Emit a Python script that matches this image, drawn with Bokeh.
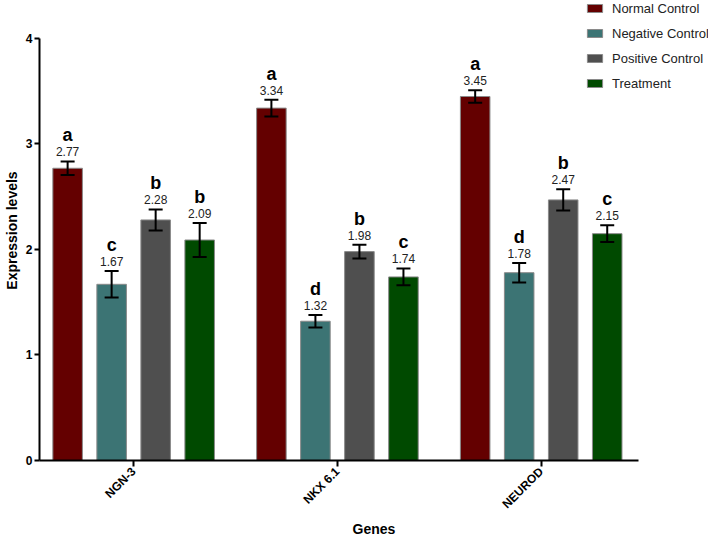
from bokeh.plotting import figure
from bokeh.models import (ColumnDataSource, Whisker, TeeHead, LabelSet,
                          Legend, LegendItem, FixedTicker, Range1d)
from bokeh.core.properties import value
from bokeh.embed import file_html
from bokeh.resources import INLINE
import math

genes = ["NGN-3", "NKX 6.1", "NEUROD"]
groups = ["Normal Control", "Negative Control", "Positive Control", "Treatment"]

normal_control = [2.77, 3.34, 3.45]
negative_control = [1.67, 1.32, 1.78]
positive_control = [2.28, 1.98, 2.47]
treatment = [2.09, 1.74, 2.15]

normal_err = [0.065, 0.08, 0.06]
negative_err = [0.125, 0.06, 0.093]
positive_err = [0.10, 0.065, 0.10]
treatment_err = [0.16, 0.08, 0.08]

normal_letters = ["a", "a", "a"]
negative_letters = ["c", "d", "d"]
positive_letters = ["b", "b", "b"]
treatment_letters = ["b", "c", "c"]

y_ticks = [0, 1, 2, 3, 4]

values = [normal_control, negative_control, positive_control, treatment]
errors = [normal_err, negative_err, positive_err, treatment_err]
letters = [normal_letters, negative_letters, positive_letters, treatment_letters]
colors = ["#640000", "#3c7474", "#4f4f4f", "#004a00"]
offsets = [-0.324, -0.108, 0.108, 0.324]
FONT = "Liberation Sans"

gene_index = list(range(len(genes)))

p = figure(x_range=Range1d(-0.462, 2.821), y_range=Range1d(0, 4.36),
           width=708, height=540, output_backend="svg", toolbar_location=None,
           min_border_left=38, min_border_right=0, min_border_top=0, min_border_bottom=73)

items = []
for g, vals, errs, lets, col, off in zip(groups, values, errors, letters, colors, offsets):
    src = ColumnDataSource(dict(
        x=[i + off for i in gene_index], value=vals,
        upper=[v + e for v, e in zip(vals, errs)],
        lower=[v - e for v, e in zip(vals, errs)],
        label=[f"{v:.2f}" for v in vals],
        letter=lets))
    r = p.vbar(x="x", top="value", width=0.145, source=src, fill_color=col,
               line_color="#8a8a8a", line_width=1)
    items.append(LegendItem(label=g, renderers=[r]))
    w = Whisker(base="x", upper="upper", lower="lower", source=src, level="overlay",
                line_color="black", line_width=2,
                upper_head=TeeHead(size=14, line_width=2, line_color="black"),
                lower_head=TeeHead(size=14, line_width=2, line_color="black"))
    p.add_layout(w)
    p.add_layout(LabelSet(x="x", y="upper", text="label", source=src, y_offset=5,
                          text_align="center", text_baseline="alphabetic",
                          text_font=value(FONT), text_font_size="12px", text_color="#222222"))
    p.add_layout(LabelSet(x="x", y="upper", text="letter", source=src, y_offset=20,
                          text_align="center", text_baseline="alphabetic",
                          text_font=value(FONT), text_font_size="18px", text_font_style="bold",
                          text_color="black"))

legend = Legend(items=items, location=(546, 369), orientation="vertical",
                glyph_width=19, glyph_height=10, label_height=16, spacing=9,
                label_standoff=8, padding=0, margin=0,
                border_line_color=None, background_fill_alpha=0,
                label_text_font=FONT, label_text_font_size="13px", label_text_color="#222222")
p.add_layout(legend)

p.xgrid.visible = False
p.ygrid.visible = False
p.outline_line_color = None

p.yaxis.ticker = FixedTicker(ticks=y_ticks)
p.yaxis.bounds = (0, 4)
p.yaxis.minor_tick_line_color = None
p.yaxis.axis_label = "Expression levels"

p.xaxis.ticker = FixedTicker(ticks=gene_index)
p.xaxis.major_label_overrides = {i: g for i, g in enumerate(genes)}
p.xaxis.bounds = (-0.462, 2.477)
p.xaxis.minor_tick_line_color = None
p.xaxis.axis_label = "Genes"

for ax in (p.xaxis[0], p.yaxis[0]):
    ax.axis_line_width = 2
    ax.axis_line_color = "black"
    ax.major_tick_line_width = 2
    ax.major_tick_line_color = "black"
    ax.major_tick_in = 0
    ax.major_label_text_font = FONT
    ax.major_label_text_font_style = "bold"
    ax.major_label_text_color = "black"
    ax.axis_label_text_font = FONT
    ax.axis_label_text_font_style = "bold"
    ax.axis_label_text_color = "black"

p.yaxis.major_tick_out = 5
p.yaxis.major_label_standoff = 2
p.yaxis.axis_label_standoff = 3
p.yaxis.major_label_text_font_size = "12px"
p.yaxis.axis_label_text_font_size = "14px"

p.xaxis.major_tick_out = 6
p.xaxis.major_label_standoff = 3
p.xaxis.axis_label_standoff = 2
p.xaxis.major_label_text_font_size = "12px"
p.xaxis.major_label_orientation = math.pi / 4
p.xaxis.axis_label_text_font_size = "14px"

open("out.html", "w").write(file_html(p, INLINE))
